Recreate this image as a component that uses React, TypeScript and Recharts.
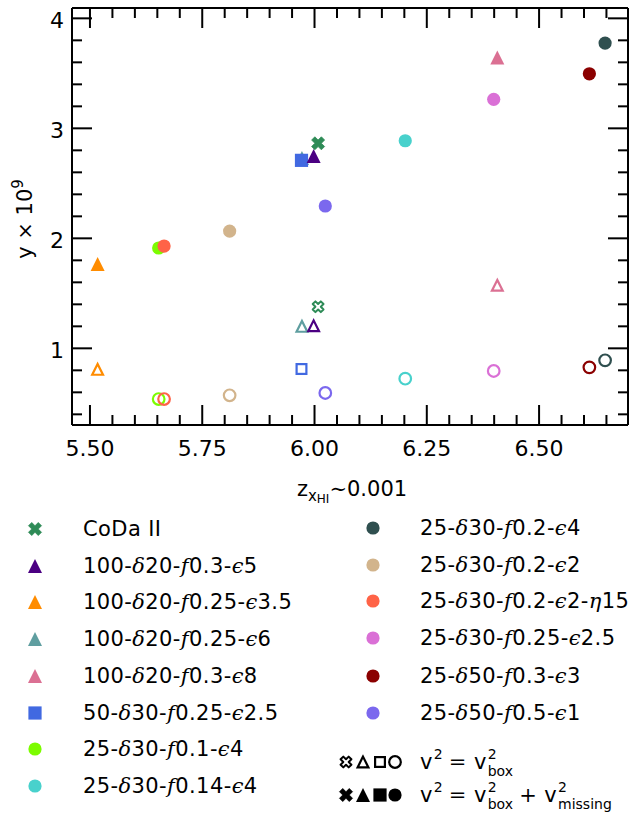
import React from 'react';
import { ScatterChart, Scatter, XAxis, YAxis } from 'recharts';

// ---------- data ----------
const simNames = [
  'CoDa II',
  '100-δ20-f0.3-ϵ5',
  '100-δ20-f0.25-ϵ3.5',
  '100-δ20-f0.25-ϵ6',
  '100-δ20-f0.3-ϵ8',
  '50-δ30-f0.25-ϵ2.5',
  '25-δ30-f0.1-ϵ4',
  '25-δ30-f0.14-ϵ4',
  '25-δ30-f0.2-ϵ4',
  '25-δ30-f0.2-ϵ2',
  '25-δ30-f0.2-ϵ2-η15',
  '25-δ30-f0.25-ϵ2.5',
  '25-δ50-f0.3-ϵ3',
  '25-δ50-f0.5-ϵ1',
];
const simColors = [
  '#2E8B57', '#4B0082', '#FF8C00', '#5F9EA0', '#DB7093', '#4169E1', '#7CFC00',
  '#48D1CC', '#2F4F4F', '#D2B48C', '#FF6347', '#DA70D6', '#8B0000', '#7B68EE',
];
const simMarkers = [
  'X', 'triangle', 'triangle', 'triangle', 'triangle', 'square', 'circle',
  'circle', 'circle', 'circle', 'circle', 'circle', 'circle', 'circle',
];
// redshift at which x_HI ~ 0.001
const zReion = [6.008, 5.998, 5.517, 5.972, 6.407, 5.971, 5.653, 6.202, 6.647, 5.811, 5.665, 6.399, 6.612, 6.024];
// y x 1e9 with v^2 = v_box^2 + v_missing^2 (filled)
const yBoxMissing = [2.864, 2.748, 1.766, 2.73, 3.645, 2.709, 1.912, 2.887, 3.775, 2.066, 1.93, 3.264, 3.496, 2.294];
// y x 1e9 with v^2 = v_box^2 (open)
const yBox = [1.378, 1.205, 0.809, 1.2, 1.573, 0.812, 0.539, 0.724, 0.891, 0.573, 0.539, 0.794, 0.827, 0.594];

const drawOrder = [0, 3, 5, 1, 2, 4, 6, 7, 8, 9, 10, 11, 12, 13];

const xMajorTicks = [5.5, 5.75, 6.0, 6.25, 6.5];
const xTickLabels = ['5.50', '5.75', '6.00', '6.25', '6.50'];
const xAllTicks = [5.5, 5.55, 5.6, 5.65, 5.7, 5.75, 5.8, 5.85, 5.9, 5.95, 6.0, 6.05, 6.1, 6.15, 6.2, 6.25, 6.3, 6.35, 6.4, 6.45, 6.5, 6.55, 6.6, 6.65];
const yMajorTicks = [1, 2, 3, 4];
const yTickLabels = ['1', '2', '3', '4'];
const yAllTicks = [0.4, 0.6, 0.8, 1, 1.2, 1.4, 1.6, 1.8, 2, 2.2, 2.4, 2.6, 2.8, 3, 3.2, 3.4, 3.6, 3.8, 4];

const xDomain = [5.46, 6.698];
const yDomain = [0.303, 4.094];

// ---------- styling ----------
const FONT = "'DejaVu Sans', sans-serif";
const MATHFONT = "'DejaVu Serif', serif";
const TICK_SIZE = 22;
const LABEL_SIZE = 21;
const LEGEND_SIZE = 21;

const X_PTS = [[-1, -2], [0, -1], [1, -2], [2, -1], [1, 0], [2, 1], [1, 2], [0, 1], [-1, 2], [-2, 1], [-1, 0], [-2, -1]];

function Marker({ cx, cy, kind, color, filled }: any) {
  const sw = 2.2;
  if (cx == null || cy == null) return <g />;
  if (kind === 'circle') {
    return filled ? (
      <circle cx={cx} cy={cy} r={6.6} fill={color} />
    ) : (
      <circle cx={cx} cy={cy} r={5.8} fill="none" stroke={color} strokeWidth={sw} />
    );
  }
  if (kind === 'square') {
    const h = filled ? 6.6 : 4.9;
    return filled ? (
      <rect x={cx - h} y={cy - h} width={2 * h} height={2 * h} fill={color} />
    ) : (
      <rect x={cx - h} y={cy - h} width={2 * h} height={2 * h} fill="none" stroke={color} strokeWidth={sw} />
    );
  }
  if (kind === 'triangle') {
    const h = filled ? 7 : 5.4;
    const pts = `${cx},${cy - h} ${cx - h},${cy + h} ${cx + h},${cy + h}`;
    return filled ? (
      <polygon points={pts} fill={color} />
    ) : (
      <polygon points={pts} fill="none" stroke={color} strokeWidth={sw} strokeLinejoin="miter" />
    );
  }
  // X (filled x marker)
  const s = filled ? 3.25 : 2.7;
  const pts = X_PTS.map(([a, b]) => `${cx + a * s},${cy + b * s}`).join(' ');
  return filled ? (
    <polygon points={pts} fill={color} stroke={color} strokeWidth={0.8} strokeLinejoin="round" />
  ) : (
    <polygon points={pts} fill="none" stroke={color} strokeWidth={2} strokeLinejoin="round" />
  );
}

const BottomTick = (props: any) => {
  const { x, y, payload } = props;
  const idx = xMajorTicks.indexOf(payload.value);
  const major = idx >= 0;
  return (
    <g>
      <line x1={x} x2={x} y1={y} y2={y - (major ? 20 : 10)} stroke="#000" strokeWidth={2} />
      {major && (
        <text x={x} y={y + 31} textAnchor="middle" fontSize={TICK_SIZE} fontFamily={FONT} fill="#000">
          {xTickLabels[idx]}
        </text>
      )}
    </g>
  );
};
const TopTick = (props: any) => {
  const { x, y, payload } = props;
  const major = xMajorTicks.indexOf(payload.value) >= 0;
  return <line x1={x} x2={x} y1={y} y2={y + (major ? 20 : 10)} stroke="#000" strokeWidth={2} />;
};
const LeftTick = (props: any) => {
  const { x, y, payload } = props;
  const idx = yMajorTicks.indexOf(payload.value);
  const major = idx >= 0;
  return (
    <g>
      <line x1={x} x2={x + (major ? 20 : 10)} y1={y} y2={y} stroke="#000" strokeWidth={2} />
      {major && (
        <text x={x - 8} y={y + 10} textAnchor="end" fontSize={TICK_SIZE} fontFamily={FONT} fill="#000">
          {yTickLabels[idx]}
        </text>
      )}
    </g>
  );
};
const RightTick = (props: any) => {
  const { x, y, payload } = props;
  const major = yMajorTicks.indexOf(payload.value) >= 0;
  return <line x1={x} x2={x - (major ? 20 : 10)} y1={y} y2={y} stroke="#000" strokeWidth={2} />;
};

function renderLabel(s: string) {
  return s.split('').map((ch, i) =>
    'δfϵη'.includes(ch) ? (
      <span key={i} style={{ fontFamily: MATHFONT, fontStyle: 'italic' }}>{ch}</span>
    ) : (
      <React.Fragment key={i}>{ch}</React.Fragment>
    )
  );
}

const leftRows = [529, 566, 602, 639, 676, 713, 749, 786];
const rightRows = [528, 565, 601, 638, 676, 713, 762, 795];

function LegendMarker({ x, y, kind, color, filled }: any) {
  return (
    <svg style={{ position: 'absolute', left: x - 10, top: y - 10 }} width={20} height={20}>
      <Marker cx={10} cy={10} kind={kind} color={color} filled={filled} />
    </svg>
  );
}

function LegendText({ x, y, children }: any) {
  return (
    <div
      style={{
        position: 'absolute',
        left: x,
        top: y - 14,
        height: 28,
        lineHeight: '28px',
        fontSize: LEGEND_SIZE,
        fontFamily: FONT,
        letterSpacing: '0.4px',
        whiteSpace: 'nowrap',
        color: '#000',
      }}
    >
      {children}
    </div>
  );
}

function Sup({ text }: any) {
  return (
    <span style={{ position: 'relative', top: -10.5, left: 1, fontSize: 14, letterSpacing: 0 }}>{text}</span>
  );
}

function SupSub({ sup, sub }: any) {
  return (
    <span
      style={{
        position: 'relative',
        display: 'inline-block',
        fontSize: 14,
        lineHeight: '14px',
        letterSpacing: 0,
      }}
    >
      <span style={{ position: 'absolute', left: 1, top: -10 }}>{sup}</span>
      <span style={{ position: 'relative', top: 7, left: 1 }}>{sub}</span>
    </span>
  );
}

function ShapeGroup({ y, filled }: any) {
  const kinds = ['X', 'triangle', 'square', 'circle'];
  const xs = [346, 363, 380, 395];
  return (
    <svg style={{ position: 'absolute', left: 330, top: y - 10 }} width={80} height={20}>
      {kinds.map((k, i) => (
        <Marker key={k} cx={xs[i] - 330} cy={10} kind={k} color="#000" filled={filled} />
      ))}
    </svg>
  );
}

export default function App() {
  const series: any[] = [];
  drawOrder.forEach((i) => {
    series.push(
      <Scatter
        key={`o${i}`}
        data={[{ x: zReion[i], y: yBox[i] }]}
        xAxisId="b"
        yAxisId="l"
        isAnimationActive={false}
        shape={(p: any) => <Marker cx={p.cx} cy={p.cy} kind={simMarkers[i]} color={simColors[i]} filled={false} />}
      />
    );
    series.push(
      <Scatter
        key={`f${i}`}
        data={[{ x: zReion[i], y: yBoxMissing[i] }]}
        xAxisId="b"
        yAxisId="l"
        isAnimationActive={false}
        shape={(p: any) => <Marker cx={p.cx} cy={p.cy} kind={simMarkers[i]} color={simColors[i]} filled={true} />}
      />
    );
  });

  return (
    <div style={{ position: 'absolute', left: 0, top: 0, width: 631, height: 818, background: '#fff' }}>
      <ScatterChart width={631} height={818} margin={{ top: 0, right: 0, left: 0, bottom: 0 }}>
        <XAxis
          xAxisId="b"
          dataKey="x"
          type="number"
          domain={xDomain}
          allowDataOverflow
          ticks={xAllTicks}
          interval={0}
          height={393}
          tickSize={0}
          tickMargin={0}
          tickLine={false}
          axisLine={{ stroke: '#000', strokeWidth: 2 }}
          tick={<BottomTick />}
        />
        <XAxis
          xAxisId="t"
          orientation="top"
          dataKey="x"
          type="number"
          domain={xDomain}
          allowDataOverflow
          ticks={xAllTicks}
          interval={0}
          height={8}
          tickSize={0}
          tickMargin={0}
          tickLine={false}
          axisLine={{ stroke: '#000', strokeWidth: 2 }}
          tick={<TopTick />}
        />
        <YAxis
          yAxisId="l"
          dataKey="y"
          type="number"
          domain={yDomain}
          allowDataOverflow
          ticks={yAllTicks}
          interval={0}
          width={72}
          tickSize={0}
          tickMargin={0}
          tickLine={false}
          axisLine={{ stroke: '#000', strokeWidth: 2 }}
          tick={<LeftTick />}
        />
        <YAxis
          yAxisId="r"
          orientation="right"
          dataKey="y"
          type="number"
          domain={yDomain}
          allowDataOverflow
          ticks={yAllTicks}
          interval={0}
          width={3}
          tickSize={0}
          tickMargin={0}
          tickLine={false}
          axisLine={{ stroke: '#000', strokeWidth: 2 }}
          tick={<RightTick />}
        />
        <Scatter
          data={[{ x: 6, y: 2 }]}
          xAxisId="t"
          yAxisId="r"
          isAnimationActive={false}
          shape={() => <g />}
        />
        {series}
      </ScatterChart>

      <svg style={{ position: 'absolute', left: 0, top: 0, pointerEvents: 'none' }} width={631} height={818}>
        <text transform="translate(32,219) rotate(-90)" textAnchor="middle" fontSize={LABEL_SIZE} fontFamily={FONT} fill="#000">
          y <tspan fontFamily={MATHFONT}>×</tspan> 10<tspan fontSize={15} dy={-9}>9</tspan>
        </text>
        <text x={352} y={496} textAnchor="middle" fontSize={LABEL_SIZE} fontFamily={FONT} fill="#000">
          z<tspan fontSize={15} dy={5}>x</tspan><tspan fontSize={12} dy={2}>HI</tspan>
          <tspan dy={-7} fontFamily={MATHFONT}>∼</tspan>0.001
        </text>
      </svg>

      {simNames.map((name, i) => {
        const left = i < 8;
        const row = left ? leftRows[i] : rightRows[i - 8];
        return (
          <React.Fragment key={name}>
            <LegendMarker x={left ? 35 : 373} y={row} kind={simMarkers[i]} color={simColors[i]} filled={true} />
            <LegendText x={left ? 83 : 420} y={row}>{renderLabel(name)}</LegendText>
          </React.Fragment>
        );
      })}
      <ShapeGroup y={rightRows[6]} filled={false} />
      <ShapeGroup y={rightRows[7]} filled={true} />
      <LegendText x={420} y={rightRows[6]}>
        v<Sup text="2" /> <span style={{ fontFamily: MATHFONT }}>=</span> v<SupSub sup="2" sub="box" />
      </LegendText>
      <LegendText x={420} y={rightRows[7]}>
        v<Sup text="2" /> <span style={{ fontFamily: MATHFONT }}>=</span> v<SupSub sup="2" sub="box" />{' '}
        <span style={{ fontFamily: MATHFONT }}>+</span> v<SupSub sup="2" sub="missing" />
      </LegendText>
    </div>
  );
}
